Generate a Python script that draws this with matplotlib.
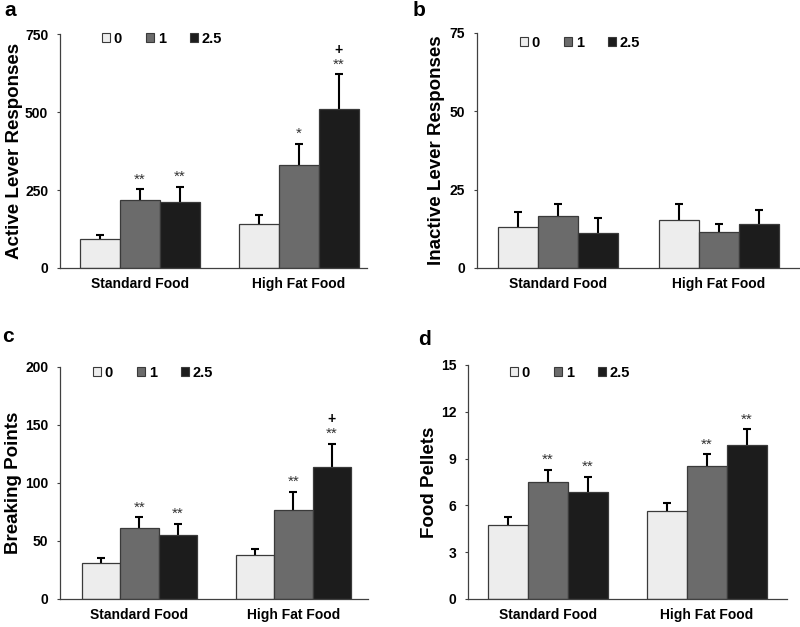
import matplotlib
matplotlib.use("Agg")
import matplotlib.pyplot as plt
import matplotlib.patches as mpatches
import numpy as np

plt.rcParams.update({
    "font.family": ["Liberation Sans", "DejaVu Sans"],
    "font.weight": "bold",
})

# ── data ────────────────────────────────────────────────────────────────
GROUPS = ["Standard Food", "High Fat Food"]
DOSES = ["0", "1", "2.5"]
COLORS = ["#EDEDED", "#6B6B6B", "#1C1C1C"]

# a: active lever responses  (rows = dose, cols = food)
ACTIVE_MEAN = [[92, 141], [218, 330], [211, 510]]
ACTIVE_ERR = [[14, 29], [35, 69], [50, 112]]
ACTIVE_STARS = [["", ""], ["**", "*"], ["**", "**"]]
ACTIVE_PLUS = [["", ""], ["", ""], ["", "+"]]

# b: inactive lever responses
INACTIVE_MEAN = [[13.0, 15.3], [16.6, 11.5], [11.3, 14.0]]
INACTIVE_ERR = [[4.9, 5.0], [3.9, 2.4], [4.7, 4.5]]
INACTIVE_STARS = [["", ""], ["", ""], ["", ""]]
INACTIVE_PLUS = [["", ""], ["", ""], ["", ""]]

# c: breaking points
BP_MEAN = [[31, 38], [61, 77], [55, 114]]
BP_ERR = [[4, 5], [9.5, 15.5], [10, 20]]
BP_STARS = [["", ""], ["**", "**"], ["**", "**"]]
BP_PLUS = [["", ""], ["", ""], ["", "+"]]

# d: food pellets
FP_MEAN = [[4.73, 5.65], [7.48, 8.53], [6.89, 9.88]]
FP_ERR = [[0.5, 0.52], [0.8, 0.77], [0.96, 1.0]]
FP_STARS = [["", ""], ["**", "**"], ["**", "**"]]
FP_PLUS = [["", ""], ["", ""], ["", ""]]

W, H = 800, 627


def px_axes(left, right, top, bottom):
    return [left / W, 1 - bottom / H, (right - left) / W, (bottom - top) / H]


def draw_panel(rect, mean, err, stars, plus, ymax, yticks, ylabel, xlim,
               leg_x, leg_y, letter, letter_xy, ylabel_x):
    ax = fig.add_axes(px_axes(*rect))
    x = np.arange(len(GROUPS))
    bw = 0.25
    for i, dose in enumerate(DOSES):
        xs = x + (i - 1) * bw
        ax.bar(xs, mean[i], width=bw, color=COLORS[i], edgecolor="#3A3A3A",
               linewidth=0.9, label=dose, zorder=2)
        eb = ax.errorbar(xs, mean[i], yerr=[np.zeros(len(GROUPS)), err[i]],
                         fmt="none", ecolor="black", elinewidth=1.5,
                         capsize=3.2, capthick=1.5, zorder=1)
        eb[1][0].set_visible(False)   # no cap at the bar top
        for j in range(len(GROUPS)):
            top = mean[i][j] + err[i][j]
            if stars[i][j]:
                ax.annotate(stars[i][j], (xs[j], top), xytext=(0, 4),
                            textcoords="offset points", ha="center",
                            va="baseline", fontsize=11, fontweight="normal",
                            color="#333333")
            if plus[i][j]:
                ax.annotate(plus[i][j], (xs[j], top), xytext=(0, 14.5),
                            textcoords="offset points", ha="center",
                            va="baseline", fontsize=10, fontweight="bold",
                            color="black")
    ax.set_xlim(*xlim)
    ax.set_ylim(0, ymax)
    ax.set_yticks(yticks)
    ax.set_xticks(x)
    ax.set_xticklabels(GROUPS, fontsize=10, fontweight="bold")
    ax.tick_params(axis="x", length=0, pad=6.5)
    ax.tick_params(axis="y", length=2.5, width=0.8, pad=6, labelsize=10,
                   color="#404040")
    for lab in ax.get_yticklabels():
        lab.set_fontweight("bold")
    for s in ["top", "right"]:
        ax.spines[s].set_visible(False)
    for s in ["left", "bottom"]:
        ax.spines[s].set_color("#404040")
        ax.spines[s].set_linewidth(0.9)

    left, right, top_px, bottom_px = rect
    lx = (leg_x - left) / (right - left)
    ly = (bottom_px - leg_y) / (bottom_px - top_px)
    handles = [mpatches.Patch(facecolor=COLORS[i], edgecolor="#3A3A3A",
                              linewidth=0.8, label=d)
               for i, d in enumerate(DOSES)]
    ax.legend(handles=handles, ncol=3, frameon=False, loc="center left",
              bbox_to_anchor=(lx, ly), borderpad=0, borderaxespad=0,
              handlelength=0.55, handleheight=0.55, handletextpad=0.25,
              columnspacing=1.65, prop={"weight": "bold", "size": 10.5})

    fig.text(ylabel_x / W, 1 - (top_px + bottom_px) / 2 / H, ylabel,
             rotation=90, ha="center", va="center", fontsize=13.5,
             fontweight="bold")
    fig.text(letter_xy[0] / W, 1 - letter_xy[1] / H, letter, ha="left",
             va="center", fontsize=15, fontweight="bold")
    return ax


fig = plt.figure(figsize=(8.0, 6.27), dpi=100)

draw_panel((60, 367, 34, 268), ACTIVE_MEAN, ACTIVE_ERR, ACTIVE_STARS,
           ACTIVE_PLUS, 750, [0, 250, 500, 750], "Active Lever Responses",
           (-0.503, 1.428), 102, 39, "a", (4, 11), 15)
draw_panel((477, 800, 33, 268), INACTIVE_MEAN, INACTIVE_ERR, INACTIVE_STARS,
           INACTIVE_PLUS, 75, [0, 25, 50, 75], "Inactive Lever Responses",
           (-0.503, 1.503), 520, 43, "b", (413, 11), 436)
draw_panel((60, 368, 367, 599), BP_MEAN, BP_ERR, BP_STARS, BP_PLUS,
           200, [0, 50, 100, 150, 200], "Breaking Points",
           (-0.516, 1.484), 93, 373, "c", (2, 337), 14)
draw_panel((468, 787, 365, 599), FP_MEAN, FP_ERR, FP_STARS, FP_PLUS,
           15, [0, 3, 6, 9, 12, 15], "Food Pellets",
           (-0.503, 1.503), 510, 373, "d", (418, 339), 429)

fig.savefig("out.png", dpi=100)
